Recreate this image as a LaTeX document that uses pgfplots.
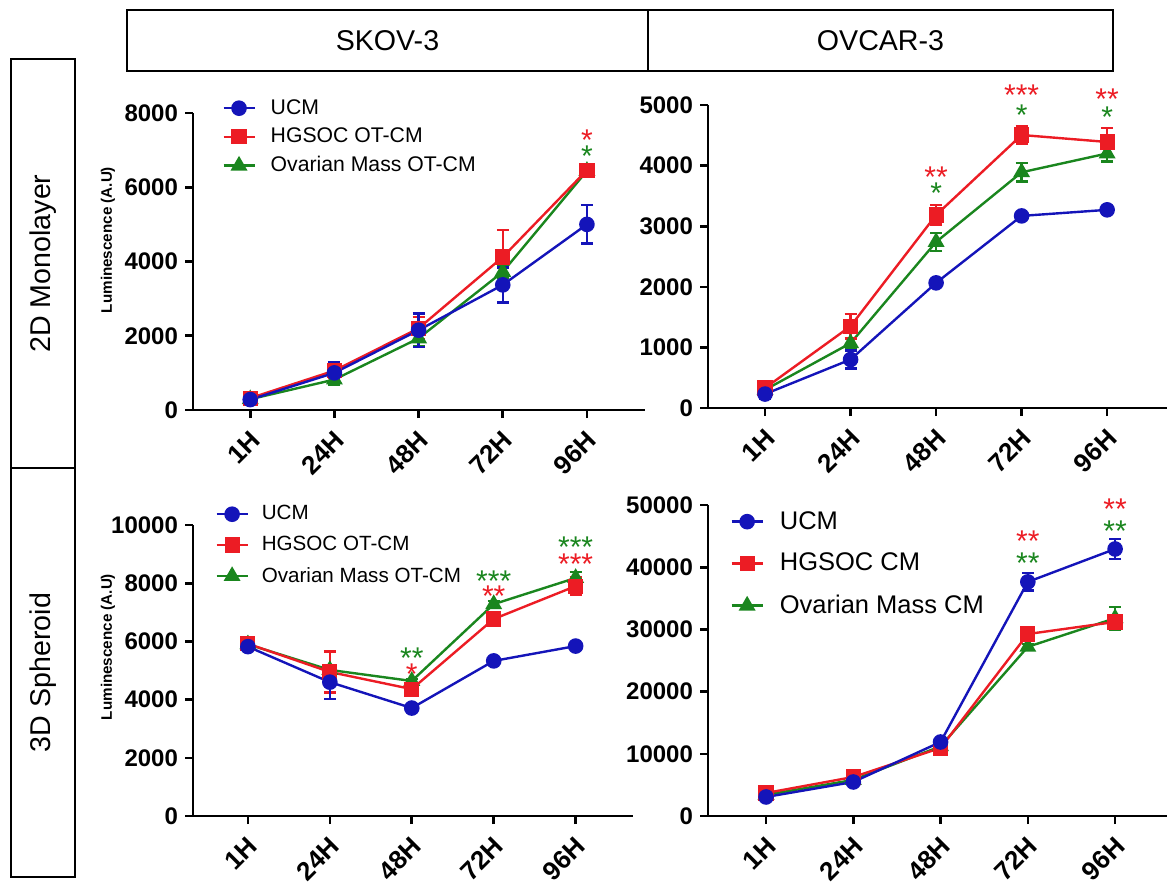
\documentclass[border=0pt]{standalone}
\usepackage{fontspec}
\setmainfont{Liberation Sans}
\usepackage{pgfplots}
\usepackage{pgfplotstable}
\pgfplotsset{compat=1.18}
\definecolor{ucmblue}{RGB}{20,20,185}
\definecolor{hgred}{RGB}{236,28,36}
\definecolor{ovgreen}{RGB}{26,134,30}

% columns: time index, UCM, err, HGSOC, err, Ovarian, err
\pgfplotstableread{
x u ue h he o oe
0 280 60 320 60 290 50
1 1000 280 1060 200 820 150
2 2150 450 2200 300 1930 200
3 3370 470 4120 730 3720 150
4 5000 520 6460 80 6440 80
}\skovmono
\pgfplotstableread{
x u ue h he o oe
0 230 80 330 60 300 50
1 800 150 1350 200 1070 80
2 2065 40 3185 160 2740 150
3 3170 40 4505 140 3890 150
4 3270 40 4390 230 4200 130
}\ovcarmono
\pgfplotstableread{
x u ue h he o oe
0 5820 80 5920 80 5900 60
1 4600 570 4950 700 5020 100
2 3710 100 4360 150 4640 60
3 5330 80 6770 200 7280 100
4 5840 60 7900 300 8180 200
}\skovsph
\pgfplotstableread{
x u ue h he o oe
0 3060 300 3700 300 3400 300
1 5470 400 6270 400 5800 300
2 11900 500 10940 500 11200 400
3 37640 1400 29260 800 27200 500
4 42930 1600 31200 700 31800 1800
}\ovcarsph

\tikzset{sigstar/.style={font=\fontsize{15}{15}\selectfont, anchor=base, yshift=-8.5pt, inner sep=0pt}}

\pgfplotsset{
  panel/.style={
    scale only axis, anchor=south west,
    axis lines*=left, axis line style={line width=1.4pt},
    ymin=0, clip=false,
    xtick={0,...,4}, xticklabels={1H,24H,48H,72H,96H},
    tick align=outside, major tick length=4pt,
    every tick/.style={black, line width=1.3pt},
    tick label style={font=\bfseries\fontsize{12}{12}\selectfont},
    xticklabel style={font=\bfseries\fontsize{13}{13}\selectfont,
      xshift=5pt, yshift=-6.5pt, rotate=45, anchor=east},
    /pgf/number format/assume math mode=true,
    /pgf/number format/1000 sep={},
    scaled y ticks=false,
    reverse legend, legend cell align=left,
    legend style={draw=none, fill=none, anchor=north west, inner sep=0pt},
    legend image code/.code={\draw[mark repeat=2,mark phase=2,##1]
      plot coordinates {(0pt,0pt) (7.75pt,0pt) (15.5pt,0pt)};},
    error bars/y dir=both, error bars/y explicit,
    error bars/error bar style={line width=1.2pt},
    error bars/error mark options={rotate=90, line width=1.2pt, mark size=3pt},
  },
  ucm/.style={ucmblue, line width=1.2pt, mark=*, mark size=3.3pt, mark options={solid}},
  hg/.style={hgred, line width=1.2pt, mark=square*, mark size=3.2pt, mark options={solid}},
  ov/.style={ovgreen, line width=1.2pt, mark=triangle*, mark size=3.7pt, mark options={solid}},
}

\begin{document}
\begin{tikzpicture}
\useasboundingbox (0pt,0pt) rectangle (583.5pt,-441pt);
\begin{scope}[x=0.5pt, y=-0.5pt, line width=1pt]
  \draw (127,10) rectangle (648,71);
  \draw (648,10) rectangle (1113,71);
  \draw (11,59) rectangle (75,468);
  \draw (11,468) rectangle (75,877);
  \node[font=\fontsize{14.3}{14.3}\selectfont] at (387.5,40.5) {SKOV-3};
  \node[font=\fontsize{14.3}{14.3}\selectfont] at (880.5,40.5) {OVCAR-3};
  \node[rotate=90, font=\fontsize{14.3}{14.3}\selectfont] at (43,263.5) {2D Monolayer};
  \node[rotate=90, font=\fontsize{14.3}{14.3}\selectfont] at (43,672.5) {3D Spheroid};
  \node[rotate=90, font=\bfseries\fontsize{7.6}{7.6}\selectfont] at (108,240) {Luminescence (A.U)};
  \node[rotate=90, font=\bfseries\fontsize{7.6}{7.6}\selectfont] at (108,647) {Luminescence (A.U)};
\end{scope}

% 2D monolayer, SKOV-3
\begin{axis}[panel, at={(96.5pt,-205pt)}, width=226pt, height=148.5pt,
  xmin=-0.68, xmax=4.69, ymax=8000, ytick={0,2000,...,8000},
  legend style={at={(0.064,1.061)}, font=\fontsize{10.6}{10.6}\selectfont,
    row sep=1.4pt, column sep=5.5pt}]
\addplot[ov] table[x=x, y=o, y error=oe] {\skovmono};
\addplot[hg] table[x=x, y=h, y error=he] {\skovmono};
\addplot[ucm] table[x=x, y=u, y error=ue] {\skovmono};
\legend{Ovarian Mass OT-CM, HGSOC OT-CM, UCM}
\node[sigstar, hgred] at (axis cs:4,7450) {*};
\node[sigstar, ovgreen] at (axis cs:4,7020) {*};
\end{axis}

% 2D monolayer, OVCAR-3
\begin{axis}[panel, at={(354pt,-204pt)}, width=229.5pt, height=151.5pt,
  xmin=-0.667, xmax=4.70, ymax=5000, ytick={0,1000,...,5000}]
\addplot[ov] table[x=x, y=o, y error=oe] {\ovcarmono};
\addplot[hg] table[x=x, y=h, y error=he] {\ovcarmono};
\addplot[ucm] table[x=x, y=u, y error=ue] {\ovcarmono};
\node[sigstar, hgred] at (axis cs:2,3927) {**};
\node[sigstar, ovgreen] at (axis cs:2,3647) {*};
\node[sigstar, hgred] at (axis cs:3,5280) {***};
\node[sigstar, ovgreen] at (axis cs:3,4950) {*};
\node[sigstar, hgred] at (axis cs:4,5214) {**};
\node[sigstar, ovgreen] at (axis cs:4,4917) {*};
\end{axis}

% 3D spheroid, SKOV-3
\begin{axis}[panel, at={(96.5pt,-408pt)}, width=220pt, height=145.5pt,
  xmin=-0.67, xmax=4.70, ymax=10000, ytick={0,2000,...,10000},
  legend style={at={(0.05,1.082)}, font=\fontsize{10.3}{10.3}\selectfont,
    row sep=2.7pt, column sep=4.5pt}]
\addplot[ov] table[x=x, y=o, y error=oe] {\skovsph};
\addplot[hg] table[x=x, y=h, y error=he] {\skovsph};
\addplot[ucm] table[x=x, y=u, y error=ue] {\skovsph};
\legend{Ovarian Mass OT-CM, HGSOC OT-CM, UCM}
\node[sigstar, ovgreen] at (axis cs:2,5670) {**};
\node[sigstar, hgred] at (axis cs:2,5120) {*};
\node[sigstar, ovgreen] at (axis cs:3,8315) {***};
\node[sigstar, hgred] at (axis cs:3,7800) {**};
\node[sigstar, ovgreen] at (axis cs:4,9483) {***};
\node[sigstar, hgred] at (axis cs:4,8900) {***};
\end{axis}

% 3D spheroid, OVCAR-3
\begin{axis}[panel, at={(354pt,-408pt)}, width=229.5pt, height=155.5pt,
  xmin=-0.665, xmax=4.595, ymax=50000, ytick={0,10000,...,50000},
  legend style={at={(0.048,0.994)}, font=\fontsize{12.75}{12.75}\selectfont,
    row sep=6.5pt, column sep=6pt}]
\addplot[ov] table[x=x, y=o, y error=oe] {\ovcarsph};
\addplot[hg] table[x=x, y=h, y error=he] {\ovcarsph};
\addplot[ucm] table[x=x, y=u, y error=ue] {\ovcarsph};
\legend{Ovarian Mass CM, HGSOC CM, UCM}
\node[sigstar, hgred] at (axis cs:3,45185) {**};
\node[sigstar, ovgreen] at (axis cs:3,41650) {**};
\node[sigstar, hgred] at (axis cs:4,50330) {**};
\node[sigstar, ovgreen] at (axis cs:4,46790) {**};
\end{axis}
\end{tikzpicture}
\end{document}
